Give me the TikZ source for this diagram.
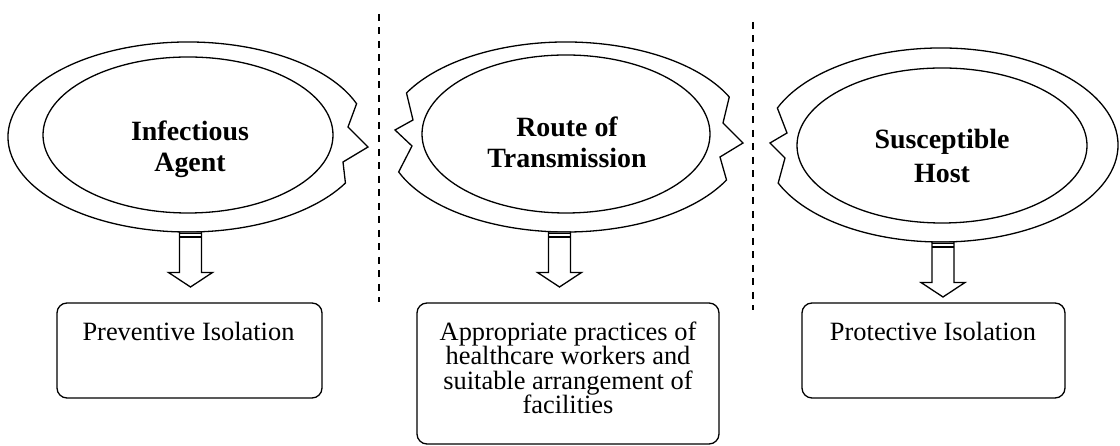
\documentclass[tikz,border=0pt]{standalone}
\usepackage{fontspec}
\setmainfont{Liberation Serif}
\usetikzlibrary{calc,shapes.geometric}
\begin{document}
\begin{tikzpicture}[x=1bp,y=1bp,
  outline/.style={line width=1.3bp, line join=miter},
  innerell/.style={draw, ellipse, line width=1.3bp, inner sep=0pt, outer sep=0pt},
  title/.style={font={\fontsize{28}{32}\selectfont\bfseries}, align=center, anchor=base, inner sep=0pt},
  boxtext/.style={font={\fontsize{26.5}{24.5}\selectfont}, align=center, anchor=base, inner sep=0pt},
  roundbox/.style={draw, line width=1.3bp, rounded corners=10bp, inner sep=0pt},
  separator/.style={line width=1.4bp, dash pattern=on 7bp off 6.5bp},
  pics/blockarrow/.style={code={
    \draw[outline, fill=white] (-11,0) -- (-11,-#1) -- (-22,-#1) -- (0,-#1-14.5)
      -- (22,-#1) -- (11,-#1) -- (11,0) -- cycle;
    \draw[line width=1.3bp] (-11,-1.5) -- (11,-1.5);
    \draw[line width=1.3bp] (-11,-5) -- (11,-5);
  }}]
\useasboundingbox (0,0) rectangle (1120,446);

% centres of the outer rings
\coordinate (oc1) at (188,309);
\coordinate (oc2) at (566,309);
\coordinate (oc3) at (941,301);

% outer rings with torn edges
\draw[outline] ($(oc1)+(20.5:180 and 95)$)
  arc[start angle=20.5, end angle=331, x radius=180, y radius=95]
  -- (343,284) -- (368,299) -- (348,319) -- cycle;
\draw[outline] ($(oc2)+(24.9:180 and 95)$)
  arc[start angle=24.9, end angle=152.4, x radius=180, y radius=95]
  -- (413,326) -- (395,316) -- (412,300)
  -- ($(oc2)+(201.6:180 and 95)$)
  arc[start angle=201.6, end angle=333.1, x radius=180, y radius=95]
  -- (720,289) -- (743,303) -- (723,323) -- cycle;
\draw[outline] ($(oc3)+(203.1:177 and 97)$)
  arc[start angle=203.1, end angle=517.6, x radius=177, y radius=97]
  -- (787,313) -- (770,303) -- (785,288) -- cycle;

% inner ellipses
\node[innerell, minimum width=290bp, minimum height=156bp] (agent) at (188,311) {};
\node[innerell, minimum width=288bp, minimum height=158bp] (route) at (566,312) {};
\node[innerell, minimum width=290bp, minimum height=155bp] (host) at (942,300.5) {};

% titles (anchored on the baseline of the last line)
\node[title] (agentlbl) at (190,274) {Infectious\\Agent};
\node[title] (routelbl) at (567,278) {Route of\\Transmission};
\node[title] (hostlbl) at (942,263) {Susceptible\\[3bp]Host};

% block arrows under the rings
\coordinate (a1) at (190.5,214);
\coordinate (a2) at (559.5,214);
\coordinate (a3) at (943,204);
\pic at (a1) {blockarrow=40.5};
\pic at (a2) {blockarrow=40.5};
\pic at (a3) {blockarrow=40.5};

% measure boxes
\node[roundbox, minimum width=265bp, minimum height=95bp] (prev) at (189.5,95.5) {};
\node[roundbox, minimum width=302bp, minimum height=141bp] (pract) at (568,72.5) {};
\node[roundbox, minimum width=263bp, minimum height=95bp] (prot) at (933.5,95.5) {};
\node[boxtext] (prevlbl) at (188.5,105) {Preventive Isolation};
\node[boxtext] (practlbl) at (568,32.5) {Appropriate practices of\\healthcare workers and\\suitable arrangement of\\facilities};
\node[boxtext] (protlbl) at (933,105) {Protective Isolation};

% dashed separators
\coordinate (s1a) at (379,432);
\coordinate (s1b) at (379,144);
\coordinate (s2a) at (753,424);
\coordinate (s2b) at (753,136);
\draw[separator] (s1a) -- (s1b);
\draw[separator] (s2a) -- (s2b);
\end{tikzpicture}
\end{document}
